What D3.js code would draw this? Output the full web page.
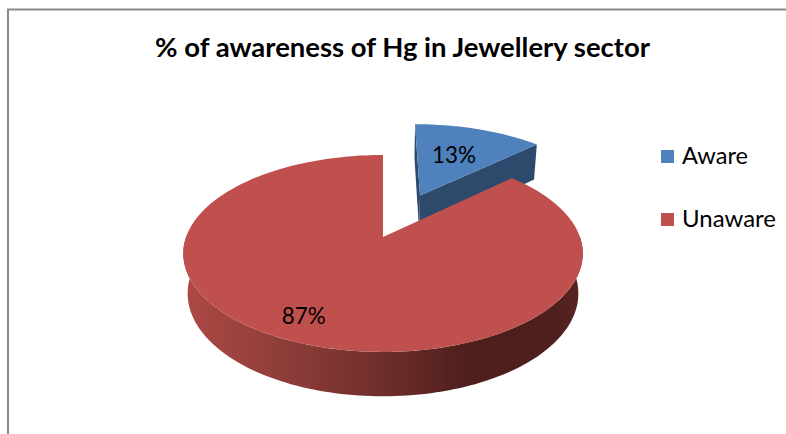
<!DOCTYPE html>
<html>
<head>
<meta charset="utf-8">
<script src="https://cdn.jsdelivr.net/npm/d3@7"></script>
<style>
  html, body { margin: 0; padding: 0; background: #ffffff; }
  svg { display: block; }
  text { font-family: Lato, "Open Sans", sans-serif; fill: #000; }
</style>
</head>
<body>
<svg id="chart" width="786" height="434"></svg>
<script>
// ---- data ----
const chartTitle = "% of awareness of Hg in Jewellery sector";
const categories = ["Aware", "Unaware"];
const values = [13, 87];
const topColors = ["#4F81BD", "#C0504D"];
const explodedSlices = ["Aware"];

// ---- 3D camera for the tilted pie (unit radius disc, thickness in radius units) ----
const cam = { cx: 383, cy: 237, f: 1030, D: 5.23, sinA: 0.486, cosA: 0.874 };
const thickness = 0.235;
const explodeDist = 0.51;

function project(u, v, w) {
  const depth = cam.D - (v * cam.cosA + w * cam.sinA);
  return [cam.cx + u * cam.f / depth, cam.cy + (v * cam.sinA - w * cam.cosA) * cam.f / depth];
}
// angle measured clockwise from 12 o'clock, as d3.pie does
const dir = a => [Math.sin(a), -Math.cos(a)];
const camPos = [0, cam.D * cam.cosA, cam.D * cam.sinA];

const svg = d3.select("#chart");
const line = d3.line();

// frame
svg.append("path")
  .attr("d", "M8,434V9.5H786")
  .attr("fill", "none")
  .attr("stroke", "#8a8a8a")
  .attr("stroke-width", 2);

// side shading
const defs = svg.append("defs");
const grad = defs.append("linearGradient")
  .attr("id", "sideRed")
  .attr("gradientUnits", "userSpaceOnUse")
  .attr("x1", 183).attr("x2", 583).attr("y1", 0).attr("y2", 0);
[[0, "#AD4945"], [0.22, "#923F3B"], [0.48, "#722F2C"], [0.72, "#4D1E1C"], [0.92, "#4E1F1D"], [1, "#5A2421"]]
  .forEach(([o, c]) => grad.append("stop").attr("offset", o).attr("stop-color", c));

const sideFill = ["#2E4B6F", "url(#sideRed)"];
const cutFill = ["#2D4A6D", "#7A312E"];

const pie = d3.pie().sort(null).value(d => d)(values);

const slices = pie.map((p, i) => {
  const mid = (p.startAngle + p.endAngle) / 2;
  const e = explodedSlices.includes(categories[i]) ? explodeDist : 0;
  const [du, dv] = dir(mid);
  return { p, i, mid, ou: du * e, ov: dv * e };
});

// back slices first
slices.sort((a, b) => a.ov - b.ov);

const N = 120;
function arcPts(s, a0, a1, w) {
  const n = Math.max(2, Math.ceil(N * (a1 - a0) / Math.PI));
  return d3.range(n + 1).map(k => {
    const a = a0 + (a1 - a0) * k / n;
    const [u, v] = dir(a);
    return project(s.ou + u, s.ov + v, w);
  });
}

slices.forEach(s => {
  const g = svg.append("g");
  const { startAngle: a0, endAngle: a1 } = s.p;
  const toCam = [camPos[0] - s.ou, camPos[1] - s.ov];

  // radial cut faces
  [[a0, -1], [a1, 1]].forEach(([a, sgn]) => {
    const n = [Math.cos(a) * sgn, Math.sin(a) * sgn];
    if (n[0] * toCam[0] + n[1] * toCam[1] > 0.001) {
      const [u, v] = dir(a);
      const pts = [
        project(s.ou, s.ov, 0),
        project(s.ou + u, s.ov + v, 0),
        project(s.ou + u, s.ov + v, -thickness),
        project(s.ou, s.ov, -thickness)
      ];
      g.append("path").attr("d", line(pts) + "Z").attr("fill", cutFill[s.i]);
    }
  });

  // outer wall, front half only
  const s0 = Math.max(a0, Math.PI / 2), s1 = Math.min(a1, 3 * Math.PI / 2);
  if (s1 > s0) {
    const pts = arcPts(s, s0, s1, 0).concat(arcPts(s, s0, s1, -thickness).reverse());
    g.append("path").attr("d", line(pts) + "Z").attr("fill", sideFill[s.i]);
  }

  // top face
  const top = [project(s.ou, s.ov, 0)].concat(arcPts(s, a0, a1, 0));
  g.append("path").attr("d", line(top) + "Z").attr("fill", topColors[s.i]);
});

// fit a text element to a target width by scaling its font size
function fit(sel, width) {
  const base = parseFloat(sel.style("font-size"));
  const w = sel.node().getComputedTextLength();
  sel.style("font-size", (base * width / w) + "px");
  return sel;
}

// title
fit(svg.append("text")
  .attr("x", 402.5).attr("y", 57)
  .attr("text-anchor", "middle")
  .style("font-weight", "bold")
  .style("font-size", "24px")
  .text(chartTitle), 495);

// data labels
const labelR = { Aware: 0.58, Unaware: 0.8 };
const labelNudge = { Aware: [-2, 0], Unaware: [-8, -2] };
const fmt = d3.format(".0%");
const total = d3.sum(values);
slices.forEach(s => {
  const cat = categories[s.i];
  const [u, v] = dir(s.mid);
  const [x, y] = project(s.ou + u * labelR[cat], s.ov + v * labelR[cat], 0);
  fit(svg.append("text")
    .attr("x", x + labelNudge[cat][0]).attr("y", y + labelNudge[cat][1])
    .attr("text-anchor", "middle")
    .attr("dominant-baseline", "central")
    .style("font-size", "22px")
    .text(fmt(values[s.i] / total)), 44);
});

// legend
const legendW = [66, 94];
const legend = svg.append("g");
categories.forEach((c, i) => {
  const y = 150 + i * 63;
  legend.append("rect")
    .attr("x", 661).attr("y", y).attr("width", 13).attr("height", 13)
    .attr("fill", topColors[i]);
  fit(legend.append("text")
    .attr("x", 682).attr("y", y + 13.5)
    .style("font-size", "22px")
    .text(c), legendW[i]);
});
</script>
</body>
</html>
